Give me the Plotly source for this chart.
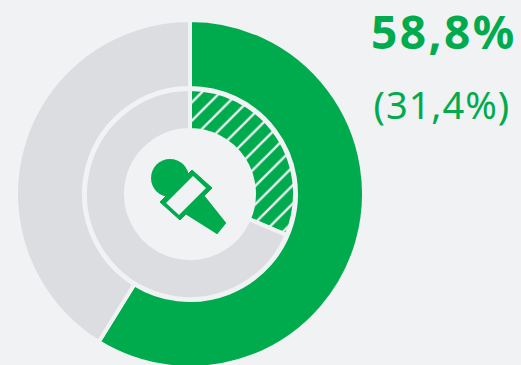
import plotly.graph_objects as go

outer_labels = ["Anteil", "Rest"]
outer_values = [58.8, 41.2]
inner_labels = ["Anteil", "Rest"]
inner_values = [31.4, 68.6]
headline = "58,8%"
subline = "(31,4%)"

GREEN = "#00ab4e"
GREY = "#dcdde0"
BG = "#f0f2f4"
W, H = 521, 372
CX, CY = 190, 194


def px(x):
    return x / W


def py(y):
    return 1 - y / H


def dom(r):
    return dict(x=[px(CX - r), px(CX + r)], y=[py(CY + r), py(CY - r)])


def path(pts):
    return "M " + " L ".join(f"{px(x):.5f},{py(y):.5f}" for x, y in pts) + " Z"


fig = go.Figure()
fig.add_trace(go.Pie(
    labels=outer_labels, values=outer_values, sort=False, direction="clockwise",
    rotation=0, hole=106 / 174, domain=dom(174), textinfo="none",
    hoverinfo="label+percent",
    marker=dict(colors=[GREEN, GREY], line=dict(color=BG, width=4)),
))
fig.add_trace(go.Pie(
    labels=inner_labels, values=inner_values, sort=False, direction="clockwise",
    rotation=0, hole=64 / 105, domain=dom(105), textinfo="none",
    hoverinfo="label+percent",
    marker=dict(colors=[GREEN, GREY], line=dict(color=BG, width=4),
                pattern=dict(shape=["/", ""], fgcolor=BG, bgcolor=GREEN,
                             size=13, solidity=0.18, fgopacity=1)),
))

shapes = [
    dict(type="circle", xref="paper", yref="paper", x0=px(151), x1=px(189),
         y0=py(197), y1=py(159), fillcolor=GREEN, line_width=0),
    dict(type="path", xref="paper", yref="paper",
         path=path([(202, 194), (225, 223), (217, 233), (184, 212)]),
         fillcolor=GREEN, line=dict(color=GREEN, width=2)),
    dict(type="path", xref="paper", yref="paper",
         path=path([(192, 170), (212, 188), (180, 220), (160, 202)]),
         fillcolor=GREEN, line=dict(color=GREEN, width=1)),
    dict(type="path", xref="paper", yref="paper",
         path=path([(193, 176), (206, 188), (179, 215), (166, 203)]),
         fillcolor=BG, line_width=0),
]

annotations = [
    dict(text=f"<b>{headline}</b>", x=px(444), y=py(31), xref="paper", yref="paper",
         xanchor="center", yanchor="middle", showarrow=False,
         font=dict(family="Noto Sans", size=46, color=GREEN)),
    dict(text=subline, x=px(442), y=py(104), xref="paper", yref="paper",
         xanchor="center", yanchor="middle", showarrow=False,
         font=dict(family="Noto Sans", size=38, color=GREEN)),
]

fig.update_layout(
    width=W, height=H, margin=dict(l=0, r=0, t=0, b=0), showlegend=False,
    paper_bgcolor=BG, plot_bgcolor=BG, shapes=shapes, annotations=annotations,
)
fig.write_html(
    "out.html",
    config=dict(displayModeBar=False),
    post_script="document.documentElement.style.overflow='hidden';"
                "document.body.style.overflow='hidden';document.body.style.margin='0';"
                "document.querySelectorAll('.annotation-text').forEach(function(t,i){"
                "t.style.letterSpacing=(i===0?'2.4px':'1px');});",
)
